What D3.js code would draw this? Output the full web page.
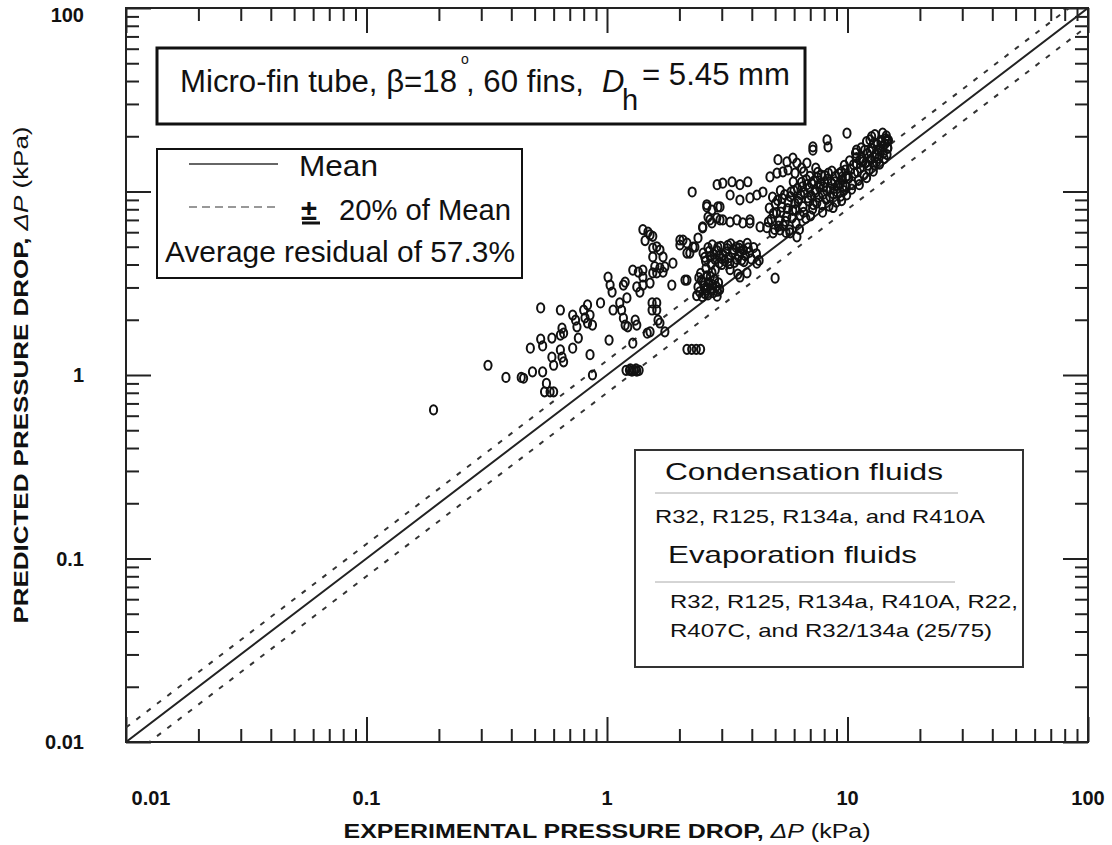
<!DOCTYPE html>
<html><head><meta charset="utf-8">
<script src="https://cdn.jsdelivr.net/npm/d3@7"></script>
<style>body{margin:0;background:#fff}</style>
</head><body>
<svg id="c" width="1112" height="845"></svg>
<script>
// ---------- DATA ----------
const decades = [0.01, 0.1, 1, 10, 100];
const xTickLabels = ["0.01", "0.1", "1", "10", "100"];
const yTickLabels = ["0.01", "0.1", "1", "", "100"];
const meanFactor = 1.0;
const bandFactors = [1.2, 0.8];   // ±20% of mean
// experimental (kPa), predicted (kPa)
const pointsLowLeft = [
 [0.19,0.645],[0.32,1.13],[0.38,0.97],[0.44,0.97],[0.45,0.96],[0.49,1.04],[0.54,1.04],[0.48,1.40],[0.53,1.57],[0.54,1.44],
 [0.59,1.59],[0.53,2.32],[0.64,2.26],[0.59,1.25],[0.60,1.13],[0.64,1.37],[0.65,1.25],[0.66,1.18],[0.56,0.90],[0.55,0.81],
 [0.58,0.81],[0.60,0.81],[0.65,1.80],[0.66,1.69],[0.64,1.65],[0.72,2.12],[0.74,1.99],[0.75,1.83],[0.76,1.59],[0.72,1.40],
 [0.80,2.26],[0.81,2.05],[0.83,1.92],[0.83,2.41],[0.85,2.12],[0.87,1.87],[0.85,1.29],[0.87,1.00],[0.94,2.47],[1.01,3.42],
 [1.03,3.09],[1.05,2.83],[1.02,1.55],[1.06,2.26],[1.13,2.47],[1.15,2.26],[1.17,2.04],[1.19,1.87],[1.21,2.63],[1.17,3.09],
 [1.19,3.21],[1.22,1.83],[1.28,3.73],[1.35,3.64],[1.41,3.73],[1.33,3.02],[1.37,2.83],[1.41,3.09],[1.31,1.99],[1.33,1.87],
 [1.28,1.49],[1.20,1.06],[1.24,1.06],[1.27,1.05],[1.30,1.06],[1.33,1.05],[1.36,1.06],[1.25,1.08],[1.32,1.08],
 [1.47,1.69],[1.51,1.72],[1.54,2.47],[1.61,2.47],[1.54,2.26],[1.61,2.26],[1.63,1.99],[1.66,1.92],[1.74,1.72],[1.86,3.09],
 [1.55,3.60],[1.66,3.83],[1.71,3.64],[1.88,4.07],[2.15,1.38],[2.25,1.38],[2.35,1.38],[2.45,1.38]
];
const pointsMiddle = [
 [1.41,6.2],[1.51,5.8],[1.44,5.4],[1.55,5.7],[1.61,5.0],[1.55,4.4],[1.58,3.9],[1.61,3.6],[1.48,6.0],[1.55,4.92],
 [1.66,4.80],[1.71,4.40],[1.74,3.88],[1.41,3.42],[1.51,3.17],[2.11,3.29],[2.01,5.44],[2.15,5.24],[2.28,4.98],[2.21,4.62],
 [2.39,5.58],[2.07,5.44],[2.15,4.62],[2.01,5.11],[2.32,4.98],[2.50,6.34],[2.73,6.74],[2.95,7.0],[2.73,7.93],[2.60,8.47],
 [2.95,8.24],[2.87,10.9],[3.03,11.1],[3.31,11.3],[3.57,10.9],[3.85,11.3],[2.26,9.94],[3.25,9.57],[3.57,8.99],[3.93,9.22],
 [4.20,9.57],[4.45,9.94],[4.76,12.0],[5.09,12.6],[5.39,12.8],[5.66,13.1],[6.05,12.6],[5.14,14.9],[5.60,14.5],[5.93,15.2],
 [6.16,14.3],[6.78,14.3],[6.45,13.4],[7.18,17.5],[7.18,16.8],[8.22,19.1],[8.30,17.5],[9.95,20.8],[12.4,19.1],[10.9,16.8],
 [11.3,14.9],[14.0,20.8],[14.6,19.1],[14.7,17.2],[5.0,3.37],[4.2,4.07],[3.82,3.60],[3.57,3.42],[2.15,3.29],[3.0,4.0],
 [3.25,3.75],[3.5,3.55],[3.93,6.74],[4.33,6.41],[4.90,5.95],[5.24,6.17],[5.77,5.95],[6.16,5.66],[2.50,6.41],[2.68,7.0],
 [2.86,7.17],[3.03,7.0],[3.25,6.82],[3.47,7.0],[3.67,6.74],[3.93,7.0],[2.60,8.24],[2.89,8.24],[2.63,7.26]
];
const pointsBand45 = [
 [2.51,4.62],[2.57,4.18],[2.63,4.94],[2.69,4.41],[2.74,5.12],[2.81,4.27],[2.86,4.77],[2.93,4.08],[2.97,5.03],[3.04,4.52],
 [3.09,4.19],[3.16,4.88],[3.21,4.36],[3.27,5.19],[3.33,4.63],[3.39,4.11],[3.44,4.97],[3.51,4.44],[3.57,5.08],[3.63,4.23],
 [3.69,4.81],[3.76,4.47],[3.83,5.22],[3.91,4.66],[3.98,4.29],[4.07,4.94],[4.18,4.58],[4.29,4.21],
 [2.55,4.38],[2.66,4.72],[2.78,4.55],[2.89,4.98],[3.01,4.31],[3.12,4.69],[3.24,4.05],[3.36,4.84],[3.47,4.26],[3.59,4.71],
 [3.71,4.15],[3.86,4.93],[2.71,4.02],[3.18,5.09],[3.54,4.92],[2.92,4.46]
];
const pointsBand3 = [
 [2.36,2.71],[2.39,3.02],[2.43,2.84],[2.47,3.28],[2.49,2.67],[2.53,3.06],[2.57,2.90],[2.60,3.47],[2.63,2.73],[2.66,3.19],
 [2.70,2.96],[2.73,3.62],[2.77,2.81],[2.80,3.31],[2.84,3.04],[2.87,2.69],[2.91,3.18],[2.94,2.92],[2.45,3.58],[2.58,3.81],
 [2.69,3.44],[2.82,3.74],[2.41,3.39],[2.55,2.78],[2.75,3.10],[2.88,2.86],[2.62,2.98],[2.51,3.21]
];
const pointsUpperBand = [
 [4.62,6.35],[4.81,7.05],[4.73,8.12],[4.98,6.21],[5.07,7.66],[5.21,6.94],[5.12,8.95],[5.33,8.21],[5.41,6.52],[5.48,9.62],
 [5.59,7.31],[5.67,8.77],[5.74,6.18],[5.83,9.95],[5.92,7.88],[6.04,8.63],[6.11,6.71],[6.19,10.4],[6.27,9.12],[6.36,7.43],
 [6.44,11.2],[6.53,8.28],[6.62,9.87],[6.71,7.14],[6.79,10.9],[6.88,8.91],[6.97,12.1],[7.05,9.53],[7.16,8.02],[7.24,11.4],
 [7.33,10.2],[7.45,8.64],[7.52,12.7],[7.61,9.31],[7.72,11.0],[7.83,8.47],[7.94,10.6],[8.05,12.2],[8.16,9.06],[8.27,11.7],
 [8.38,8.33],[8.49,10.3],[8.61,12.9],[8.74,9.71],[8.86,11.3],[8.98,8.76],[9.11,10.8],[9.23,12.5],[9.37,9.44],[9.51,11.6],
 [9.65,10.1],[9.79,13.1],[9.92,9.58],[5.26,10.1],[5.95,11.3],[6.58,12.8],[7.38,13.4],[4.88,9.31],[5.55,5.98],[6.31,6.21],
 [7.02,7.36],[7.88,7.71],[8.71,8.18],[9.45,8.92],
 [4.69,6.83],[4.92,7.61],[5.01,8.58],[5.17,6.47],[5.28,7.72],[5.36,9.18],[5.52,6.88],[5.63,8.06],[5.79,9.38],[5.88,7.19],
 [5.99,10.1],[6.08,7.96],[6.23,8.84],[6.39,9.61],[6.48,10.6],[6.57,7.71],[6.74,11.6],[6.84,9.24],[6.93,10.4],[7.09,11.1],
 [7.21,8.49],[7.36,9.88],[7.49,11.9],[7.66,10.5],[7.78,12.3],[7.91,9.66],[8.02,11.2],[8.21,10.1],[8.33,12.6],[8.45,9.38],
 [8.58,11.1],[8.81,10.4],[8.93,12.1],[9.06,9.95],[9.29,11.1],[9.43,12.8],[9.58,10.7],[9.86,12.0]
];
const pointsTopBand = [
 [9.88,10.6],[10.1,11.8],[10.3,13.2],[10.5,10.9],[10.7,12.6],[10.9,14.1],[11.1,11.5],[11.3,13.4],[11.5,15.2],[11.7,12.3],
 [11.9,14.3],[12.1,16.1],[12.3,13.1],[12.5,15.0],[12.7,17.1],[12.9,14.0],[13.1,16.0],[13.3,18.0],[13.5,15.2],[13.7,17.0],
 [13.9,19.0],[14.1,16.2],[14.3,18.1],[14.5,20.1],[14.7,17.3],[14.8,19.0],[10.2,14.7],[10.8,16.2],[11.4,17.3],[12.0,18.7],
 [12.6,19.9],[9.7,13.9],[10.4,10.3],[11.2,10.9],[12.0,11.9],[12.8,12.9],[13.6,14.1],[14.2,15.1],[14.6,15.9],[13.0,20.4],
 [10.0,12.2],[10.6,14.0],[11.0,12.8],[11.6,14.5],[12.2,13.9],[12.4,16.5],[13.0,15.3],[13.4,16.8],[13.8,18.6],[14.0,17.6],
 [14.4,19.4],[11.8,16.8],[10.9,15.3],[12.9,18.4],[14.6,18.7],[9.5,12.0],[9.3,11.0],[13.2,14.5]
];

// ---------- CHART ----------
const svg = d3.select("#c");
const x = d3.scaleLog().domain([0.01, 100]).range([126, 1088]);
const y = d3.scaleLog().domain([0.01, 100]).range([742, 8]);
const isDecade = v => Math.abs(Math.log10(v) - Math.round(Math.log10(v))) < 1e-9;
const minorX = x.ticks().filter(v => !isDecade(v));
const minorY = y.ticks().filter(v => !isDecade(v));
const INK = "#222";
const FONT = "'Liberation Sans', Arial, Helvetica, sans-serif";

function axis(fn, scale, tr, vals, size) {
  svg.append("g").attr("transform", tr)
    .call(fn(scale).tickValues(vals).tickSize(size).tickFormat(""))
    .call(g => g.select(".domain").remove())
    .selectAll("line").attr("stroke", INK).attr("stroke-width", 2);
}
const [X0, X1] = x.range(), [Y1, Y0] = y.range();
[[minorX, -13], [decades, -25]].forEach(([v, s]) => {
  axis(d3.axisBottom, x, `translate(0,${Y1})`, v, s);
  axis(d3.axisTop, x, `translate(0,${Y0})`, v, s);
});
[[minorY, -13], [decades, -25]].forEach(([v, s]) => {
  axis(d3.axisLeft, y, `translate(${X0},0)`, v, s);
  axis(d3.axisRight, y, `translate(${X1},0)`, v, s);
});
svg.append("rect").attr("x", X0).attr("y", Y0).attr("width", X1 - X0).attr("height", Y1 - Y0)
  .attr("fill", "none").attr("stroke", INK).attr("stroke-width", 2);

// tick labels
svg.append("g").selectAll("text").data(decades).join("text")
  .attr("x", (d, i) => x(d) + (i === 0 ? 25 : 0)).attr("y", 805)
  .attr("text-anchor", "middle").attr("font-family", FONT).attr("font-weight", "bold")
  .attr("font-size", 20).attr("fill", "#111").text((d, i) => xTickLabels[i]);
svg.append("g").selectAll("text").data(decades).join("text")
  .attr("x", 84).attr("y", d => Math.max(y(d) + 7, 22))
  .attr("text-anchor", "end").attr("font-family", FONT).attr("font-weight", "bold")
  .attr("font-size", 20).attr("fill", "#111").text((d, i) => yTickLabels[i]);

// axis titles
const xt = svg.append("text").attr("x", 607).attr("y", 838).attr("text-anchor", "middle")
  .attr("font-family", FONT).attr("font-size", 20).attr("fill", "#111")
  .attr("textLength", 527).attr("lengthAdjust", "spacingAndGlyphs");
xt.append("tspan").attr("font-weight", "bold").text("EXPERIMENTAL PRESSURE DROP, ");
xt.append("tspan").attr("font-style", "italic").text("ΔP");
xt.append("tspan").text(" (kPa)");
const yt = svg.append("text").attr("transform", "translate(28,375) rotate(-90)").attr("text-anchor", "middle")
  .attr("font-family", FONT).attr("font-size", 20).attr("fill", "#111")
  .attr("textLength", 497).attr("lengthAdjust", "spacingAndGlyphs");
yt.append("tspan").attr("font-weight", "bold").text("PREDICTED PRESSURE DROP, ");
yt.append("tspan").attr("font-style", "italic").text("ΔP");
yt.append("tspan").text(" (kPa)");

// reference lines
svg.append("clipPath").attr("id", "clip").append("rect")
  .attr("x", X0).attr("y", Y0).attr("width", X1 - X0).attr("height", Y1 - Y0);
const line = f => d3.line().x(d => x(d)).y(d => y(d * f));
const plot = svg.append("g").attr("clip-path", "url(#clip)");
plot.append("path").datum(decades).attr("d", line(meanFactor))
  .attr("fill", "none").attr("stroke", INK).attr("stroke-width", 2);
bandFactors.forEach(f => plot.append("path").datum(decades).attr("d", line(f))
  .attr("fill", "none").attr("stroke", "#333").attr("stroke-width", 2).attr("stroke-dasharray", "5,8"));

// points
const allPts = pointsLowLeft.concat(pointsMiddle, pointsBand45, pointsBand3, pointsUpperBand, pointsTopBand);
plot.append("g").selectAll("ellipse").data(allPts).join("ellipse")
  .attr("cx", d => x(d[0])).attr("cy", d => y(d[1])).attr("rx", 3.6).attr("ry", 4.6)
  .attr("fill", "none").attr("stroke", "#111").attr("stroke-width", 2);

// ---------- ANNOTATION BOXES ----------
function txt(g, s, xx, yy, size, opts = {}) {
  const t = g.append("text").attr("x", xx).attr("y", yy).attr("font-family", FONT)
    .attr("font-size", size).attr("fill", "#111").text(s);
  if (opts.len) t.attr("textLength", opts.len).attr("lengthAdjust", "spacingAndGlyphs");
  if (opts.italic) t.attr("font-style", "italic");
  if (opts.bold) t.attr("font-weight", "bold");
  return t;
}
const ann = svg.append("g");
ann.append("rect").attr("x", 157).attr("y", 48).attr("width", 648).attr("height", 76)
  .attr("fill", "#fff").attr("stroke", "#111").attr("stroke-width", 3);
txt(ann, "Micro-fin tube, β=18", 180, 92, 31, {len: 277});
txt(ann, "o", 461, 64, 14);
txt(ann, ", 60 fins,", 466, 92, 31, {len: 118});
txt(ann, "D", 602, 92, 31, {italic: true});
txt(ann, "h", 622, 110, 29);
txt(ann, "= 5.45 mm", 642, 85, 31, {len: 148});

ann.append("rect").attr("x", 157).attr("y", 149).attr("width", 365).attr("height", 129)
  .attr("fill", "#fff").attr("stroke", "#111").attr("stroke-width", 2);
ann.append("line").attr("x1", 189).attr("x2", 278).attr("y1", 164).attr("y2", 164)
  .attr("stroke", "#333").attr("stroke-width", 1.5);
txt(ann, "Mean", 299, 176, 29, {len: 79});
ann.append("line").attr("x1", 189).attr("x2", 278).attr("y1", 207).attr("y2", 207)
  .attr("stroke", "#777").attr("stroke-width", 1.5).attr("stroke-dasharray", "8,5");
txt(ann, "±", 301, 220, 29, {bold: true});
ann.append("line").attr("x1", 302).attr("x2", 320).attr("y1", 223).attr("y2", 223)
  .attr("stroke", "#111").attr("stroke-width", 3);
txt(ann, "20% of Mean", 339, 220, 29, {len: 172});
txt(ann, "Average residual  of 57.3%", 165, 262, 29, {len: 350});

ann.append("rect").attr("x", 635).attr("y", 450).attr("width", 388).attr("height", 217)
  .attr("fill", "#fff").attr("stroke", "#333").attr("stroke-width", 2);
txt(ann, "Condensation fluids", 665, 480, 24, {len: 278});
ann.append("line").attr("x1", 655).attr("x2", 958).attr("y1", 493).attr("y2", 493)
  .attr("stroke", "#aaa").attr("stroke-width", 1);
txt(ann, "R32, R125, R134a, and R410A", 655, 523, 19, {len: 330});
txt(ann, "Evaporation fluids", 668, 563, 24, {len: 249});
ann.append("line").attr("x1", 655).attr("x2", 955).attr("y1", 582).attr("y2", 582)
  .attr("stroke", "#aaa").attr("stroke-width", 1);
txt(ann, "R32, R125, R134a, R410A, R22,", 670, 608, 19, {len: 348});
txt(ann, "R407C, and R32/134a (25/75)", 670, 637, 19, {len: 322});
</script>
</body></html>
